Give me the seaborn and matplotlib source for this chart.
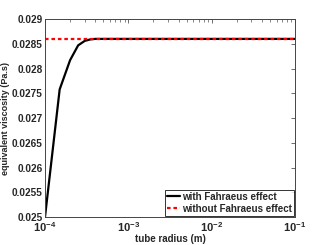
import matplotlib
matplotlib.use("Agg")
import matplotlib.pyplot as plt
import seaborn as sns
import pandas as pd
import numpy as np
from matplotlib.ticker import LogLocator, NullFormatter, FixedLocator

radius = [1e-4, 1.5e-4, 2e-4, 2.5e-4, 3e-4, 3.5e-4, 4e-4, 5e-4, 1e-3, 1e-2, 1e-1]
visc_fahraeus = [0.02500, 0.02758, 0.02817, 0.02847, 0.02856, 0.02859, 0.02860,
                 0.02860, 0.02860, 0.02860, 0.02860]
visc_const = 0.02860
ytick_vals = [0.025, 0.0255, 0.026, 0.0265, 0.027, 0.0275, 0.028, 0.0285, 0.029]
ytick_labels = ["0.025", "0.0255", "0.026", "0.0265", "0.027", "0.0275", "0.028", "0.0285", "0.029"]

sns.set_style("white")
plt.rcParams['font.family'] = ['Liberation Sans', 'DejaVu Sans']
plt.rcParams['font.weight'] = 'bold'

df1 = pd.DataFrame({"r": radius, "v": visc_fahraeus})
df2 = pd.DataFrame({"r": [radius[0], radius[-1]], "v": [visc_const, visc_const]})

fig = plt.figure(figsize=(3.26, 2.45), dpi=100)
ax = fig.add_axes([0.138, 0.114, 0.767, 0.808])
sns.lineplot(data=df1, x="r", y="v", ax=ax, color="black", lw=1.6,
             label="with Fahraeus effect")
sns.lineplot(data=df2, x="r", y="v", ax=ax, color="red", lw=1.6, linestyle=(0, (1.6, 1.3)),
             label="without Fahraeus effect")
ax.set_xscale("log")
ax.set_xlim(1e-4, 1e-1)
ax.set_ylim(0.025, 0.029)
ax.yaxis.set_major_locator(FixedLocator(ytick_vals))
ax.set_yticklabels(ytick_labels, fontsize=7.2, fontweight='bold')
ax.xaxis.set_major_locator(LogLocator(base=10))
ax.xaxis.set_minor_locator(LogLocator(base=10, subs=np.arange(2, 10)))
ax.xaxis.set_minor_formatter(NullFormatter())
for lbl in ax.get_xticklabels():
    lbl.set_fontsize(8)
    lbl.set_fontweight('bold')
ax.tick_params(which='both', direction='in', top=True, right=True, color='#555555')
ax.tick_params(axis='y', which='major', length=3, width=0.6, pad=1.5)
ax.tick_params(axis='x', which='major', length=3, width=0.6, pad=2.5)
ax.tick_params(which='minor', length=1.8, width=0.5)
for s in ax.spines.values():
    s.set_color('#444444')
    s.set_linewidth(0.7)
ax.set_xlabel("tube radius (m)", fontsize=7, fontweight='bold', labelpad=0)
ax.set_ylabel("equivalent viscosity (Pa.s)", fontsize=6.5, fontweight='bold', labelpad=1.5)
leg = ax.legend(loc="lower right", fontsize=7, frameon=True, fancybox=False,
                borderpad=0.2, handlelength=1.3, handletextpad=0.2, labelspacing=0.2,
                borderaxespad=0.15)
leg.get_frame().set_edgecolor('black')
leg.get_frame().set_linewidth(0.7)
for t in leg.get_texts():
    t.set_fontweight('bold')
fig.savefig("out.png", dpi=100)
